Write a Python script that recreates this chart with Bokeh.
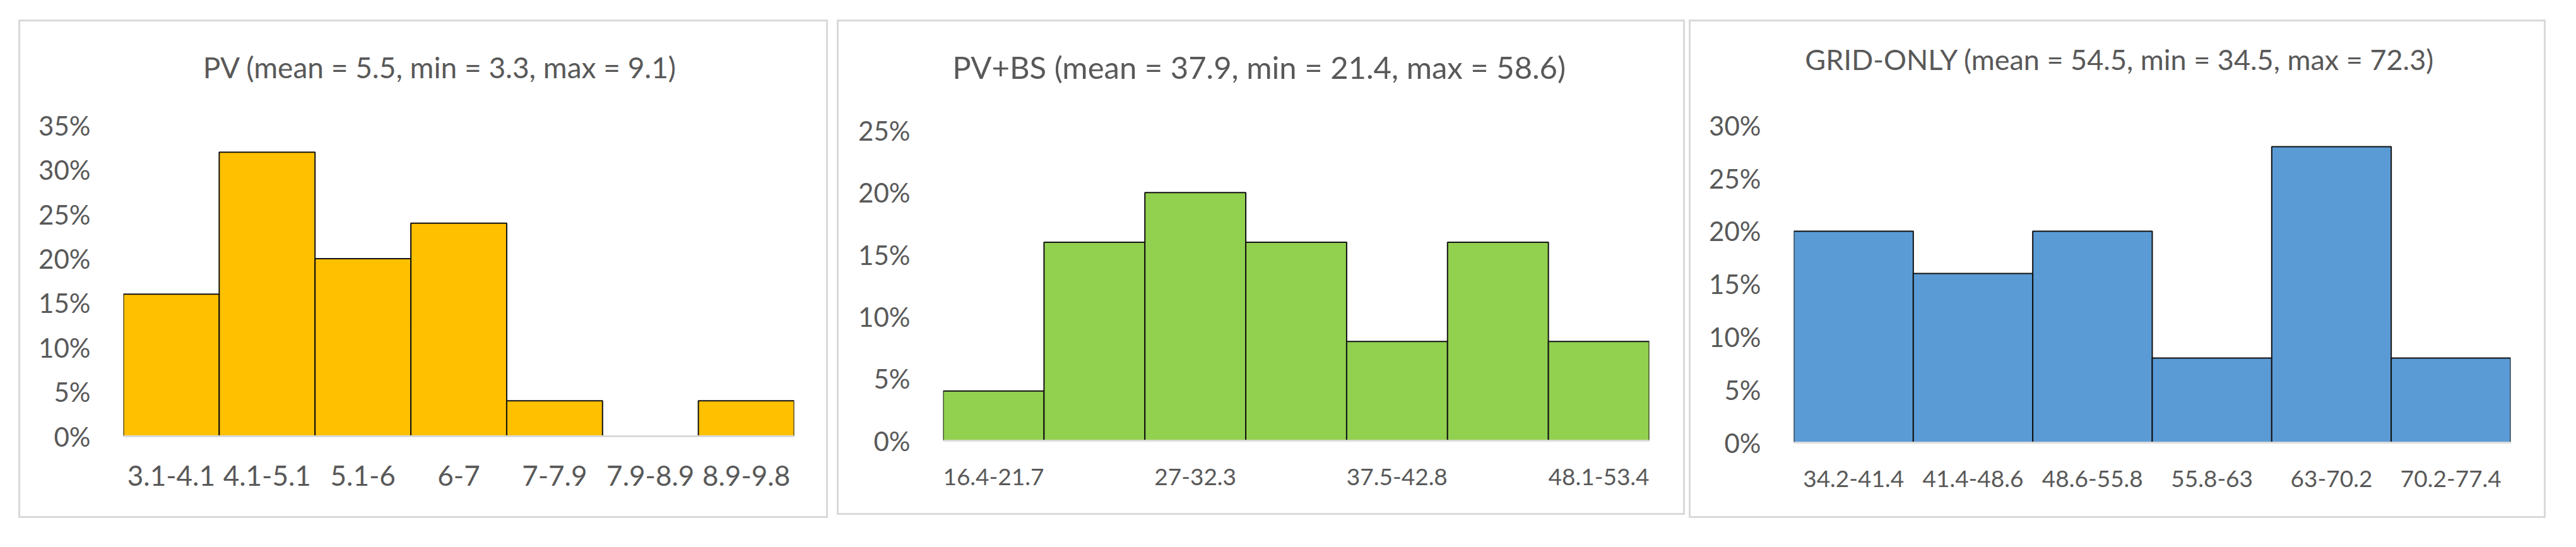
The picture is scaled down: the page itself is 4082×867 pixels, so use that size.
from bokeh.plotting import figure
from bokeh.layouts import row
from bokeh.models import Range1d, FixedTicker, NumeralTickFormatter, ColumnDataSource, Label
from bokeh.embed import file_html
from bokeh.resources import INLINE

# ---- data ----
pv_bins = ["3.1-4.1", "4.1-5.1", "5.1-6", "6-7", "7-7.9", "7.9-8.9", "8.9-9.8"]
pv_share = [0.16, 0.32, 0.20, 0.24, 0.04, 0.00, 0.04]
pv_title = "PV (mean = 5.5, min = 3.3, max = 9.1)"

pvbs_bins = ["16.4-21.7", "21.7-27", "27-32.3", "32.3-37.5", "37.5-42.8", "42.8-48.1", "48.1-53.4"]
pvbs_share = [0.04, 0.16, 0.20, 0.16, 0.08, 0.16, 0.08]
pvbs_title = "PV+BS (mean = 37.9, min = 21.4, max = 58.6)"

grid_bins = ["34.2-41.4", "41.4-48.6", "48.6-55.8", "55.8-63", "63-70.2", "70.2-77.4"]
grid_share = [0.20, 0.16, 0.20, 0.08, 0.28, 0.08]
grid_title = "GRID-ONLY (mean = 54.5, min = 34.5, max = 72.3)"

pv_yticks = [0, 0.05, 0.10, 0.15, 0.20, 0.25, 0.30, 0.35]
pvbs_yticks = [0, 0.05, 0.10, 0.15, 0.20, 0.25]
grid_yticks = [0, 0.05, 0.10, 0.15, 0.20, 0.25, 0.30]

FONT = "Lato"
TXT = "#595959"


def panel(bins, share, color, title, yticks, label_every, geo, margin,
          title_size, xfs, yfs, xstand):
    """geo: pixel layout of the panel (inner box, plot area, title anchor)."""
    n = len(bins)
    src = ColumnDataSource(dict(
        left=list(range(n)),
        right=[i + 1 for i in range(n)],
        top=share,
        bottom=[0] * n,
    ))
    fw = geo["frame_right"] - geo["frame_left"]
    axis_h = geo["zero_y"] - geo["top_tick_y"]          # pixels spanned by the value axis
    fh = geo["zero_y"] - geo["inner_top"]               # plot area extends up to the title
    ymax = yticks[-1]
    y_end = ymax * fh / axis_h
    p = figure(frame_width=fw, frame_height=fh,
               min_border_left=geo["frame_left"] - geo["inner_left"],
               min_border_right=geo["inner_right"] - geo["frame_right"],
               min_border_top=0,
               min_border_bottom=geo["inner_bottom"] - geo["zero_y"],
               x_range=Range1d(0, n), y_range=Range1d(0, y_end),
               title=None,
               output_backend="svg", toolbar_location=None,
               background_fill_color="white", border_fill_color="white",
               outline_line_color=None, margin=margin,
               styles={"border": "3px solid #d9d9d9"})
    p.quad(left="left", right="right", top="top", bottom="bottom", source=src,
           fill_color=color, line_color="#111111", line_width=2)
    p.grid.visible = False

    tx = n * (geo["title_cx"] - geo["frame_left"]) / fw
    ty = ymax * (geo["zero_y"] - geo["title_base"]) / axis_h
    p.add_layout(Label(x=tx, y=ty, text=title, text_align="center",
                       text_baseline="alphabetic", text_font=FONT,
                       text_font_size=f"{title_size}px", text_color=TXT))

    shown = list(range(0, n, label_every))
    p.xaxis.ticker = FixedTicker(ticks=[i + 0.5 for i in shown])
    p.xaxis.major_label_overrides = {i + 0.5: bins[i] for i in shown}
    p.xaxis.axis_line_color = "#d9d9d9"
    p.xaxis.axis_line_width = 3
    p.xaxis.major_tick_line_color = None
    p.xaxis.minor_tick_line_color = None
    p.xaxis.major_label_standoff = xstand
    p.xaxis.major_label_text_font = FONT
    p.xaxis.major_label_text_font_size = f"{xfs}px"
    p.xaxis.major_label_text_color = TXT

    p.yaxis.ticker = FixedTicker(ticks=yticks)
    p.yaxis.formatter = NumeralTickFormatter(format="0%")
    p.yaxis.axis_line_color = None
    p.yaxis.major_tick_line_color = None
    p.yaxis.minor_tick_line_color = None
    p.yaxis.major_label_standoff = 46
    p.yaxis.major_label_text_font = FONT
    p.yaxis.major_label_text_font_size = f"{yfs}px"
    p.yaxis.major_label_text_color = TXT
    return p


geo1 = dict(inner_left=40, inner_right=1317, inner_top=42, inner_bottom=826,
            frame_left=203, frame_right=1260, zero_y=693, top_tick_y=205,
            title_cx=702, title_base=113)
geo2 = dict(inner_left=1337, inner_right=2675, inner_top=42, inner_bottom=821,
            frame_left=1502, frame_right=2615, zero_y=700, top_tick_y=213,
            title_cx=2000, title_base=113)
geo3 = dict(inner_left=2687, inner_right=4039, inner_top=42, inner_bottom=826,
            frame_left=2850, frame_right=3980, zero_y=703, top_tick_y=205,
            title_cx=3364, title_base=101)

p1 = panel(pv_bins, pv_share, "#FFC000", pv_title, pv_yticks, 1, geo1,
           (31, 0, 0, 29), 46, 44, 42, 40)
p2 = panel(pvbs_bins, pvbs_share, "#92D050", pvbs_title, pvbs_yticks, 2, geo2,
           (31, 0, 0, 14), 49, 37, 42, 38)
p3 = panel(grid_bins, grid_share, "#5B9BD5", grid_title, grid_yticks, 1, geo3,
           (31, 0, 0, 6), 45, 37, 42, 38)

layout = row(p1, p2, p3)
open("out.html", "w").write(file_html(layout, INLINE))
